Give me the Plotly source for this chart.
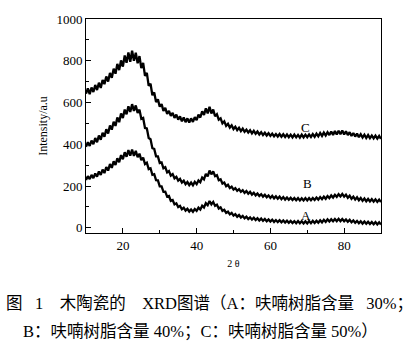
import plotly.graph_objects as go

# 2θ sampling grid (degrees)
two_theta = [10 + 0.5 * i for i in range(161)]

# Diffraction intensities (a.u.) for the three furan resin contents
intensity_A = [
    229, 247, 233, 253, 238, 260, 245, 270, 253, 279, 262, 291, 274, 305, 287, 318,
    301, 333, 314, 348, 328, 362, 340, 372, 345, 374, 344, 368, 338, 355, 324, 336,
    305, 312, 281, 285, 254, 257, 228, 227, 198, 198, 172, 173, 149, 152, 129, 133,
    112, 117, 99, 105, 89, 96, 82, 91, 78, 88, 77, 90, 81, 96, 87, 106,
    97, 118, 108, 128, 112, 124, 105, 111, 92, 98, 81, 86, 71, 77, 64, 71,
    58, 65, 53, 61, 49, 57, 45, 53, 42, 50, 39, 48, 37, 46, 35, 44,
    33, 42, 31, 40, 30, 39, 28, 37, 27, 36, 26, 35, 25, 34, 24, 33,
    23, 32, 22, 32, 22, 31, 21, 31, 21, 32, 22, 33, 23, 34, 24, 36,
    26, 38, 28, 40, 30, 41, 31, 42, 32, 43, 32, 42, 31, 40, 29, 38,
    26, 35, 24, 33, 22, 31, 20, 30, 19, 29, 18, 28, 17, 27, 16, 26,
    16,
]

intensity_B = [
    388, 410, 392, 418, 400, 430, 410, 442, 422, 455, 436, 472, 452, 490, 470, 508,
    488, 528, 506, 548, 526, 566, 544, 582, 555, 592, 560, 586, 550, 566, 522, 526,
    478, 476, 430, 424, 381, 378, 342, 342, 310, 313, 285, 290, 265, 272, 250, 257,
    237, 244, 226, 234, 217, 226, 209, 219, 204, 217, 204, 220, 209, 227, 218, 241,
    232, 258, 246, 274, 256, 270, 247, 252, 228, 232, 212, 217, 199, 206, 190, 197,
    183, 190, 177, 185, 172, 180, 167, 176, 163, 172, 159, 168, 155, 164, 152, 161,
    149, 158, 146, 155, 143, 153, 141, 151, 139, 149, 137, 147, 135, 145, 134, 144,
    133, 143, 132, 142, 131, 141, 131, 142, 131, 142, 132, 143, 133, 145, 135, 147,
    137, 149, 139, 152, 142, 155, 145, 158, 148, 161, 150, 162, 149, 159, 144, 154,
    139, 149, 135, 146, 132, 143, 129, 140, 127, 138, 126, 137, 125, 136, 124, 135,
    123,
]

intensity_C = [
    642, 668, 640, 672, 650, 684, 660, 695, 670, 708, 688, 725, 700, 742, 718, 762,
    738, 785, 755, 802, 772, 825, 790, 840, 795, 848, 800, 838, 788, 822, 765, 790,
    728, 742, 680, 690, 635, 648, 602, 615, 580, 592, 560, 574, 546, 560, 536, 550,
    526, 542, 518, 534, 510, 528, 506, 524, 504, 524, 507, 530, 516, 542, 528, 558,
    540, 572, 548, 580, 548, 566, 534, 544, 518, 524, 500, 510, 488, 498, 480, 491,
    473, 484, 468, 479, 463, 475, 460, 470, 456, 467, 452, 464, 450, 461, 447, 458,
    444, 455, 442, 453, 440, 451, 438, 449, 437, 449, 436, 448, 435, 447, 434, 446,
    433, 446, 433, 445, 432, 446, 433, 446, 434, 447, 435, 449, 436, 451, 438, 454,
    440, 456, 442, 458, 444, 461, 445, 463, 447, 465, 448, 466, 447, 462, 444, 458,
    440, 454, 437, 451, 434, 448, 432, 446, 430, 444, 429, 442, 428, 441, 427, 440,
    426,
]

curve_labels = ["A", "B", "C"]
label_x = [69.6, 70.0, 69.6]
label_y = [61, 214, 482]

x_tick_vals = [20, 40, 60, 80]
y_tick_vals = [0, 200, 400, 600, 800, 1000]

NB = "\u00a0"
caption_line1 = (f"图{NB}{NB}{NB}1{NB}{NB}{NB}{NB}木陶瓷的{NB}{NB}{NB}{NB}"
                 f"XRD图谱（A：呋喃树脂含量{NB}{NB}{NB}30%；")
caption_line2 = f"B：呋喃树脂含量{NB}40%；C：呋喃树脂含量{NB}50%）"

serif = "Liberation Serif, Times New Roman, serif"
cjk = "Liberation Serif, Noto Sans CJK SC, serif"

fig = go.Figure()
for series in (intensity_A, intensity_B, intensity_C):
    fig.add_trace(go.Scatter(
        x=two_theta, y=series, mode="lines",
        line=dict(color="black", width=2.3, simplify=False),
        showlegend=False, hoverinfo="skip",
    ))

for name, lx, ly in zip(curve_labels, label_x, label_y):
    fig.add_annotation(x=lx, y=ly, text=name, showarrow=False,
                       font=dict(family=serif, size=13, color="black"))

axis_common = dict(
    showgrid=False, zeroline=False, showline=True, linecolor="black",
    linewidth=1, mirror=True, ticks="inside", tickcolor="black",
    ticklen=5, tickwidth=1, tickfont=dict(family=serif, size=13, color="black"),
)

fig.update_xaxes(
    range=[10, 90], tickvals=x_tick_vals,
    minor=dict(ticks="inside", ticklen=3, tickcolor="black", dtick=10, tick0=10),
    title=dict(text="2 θ", font=dict(family=serif, size=10, color="black"), standoff=8),
    **axis_common,
)
fig.update_yaxes(
    range=[-25, 1000], tickvals=y_tick_vals,
    minor=dict(ticks="inside", ticklen=3, tickcolor="black", dtick=100, tick0=0),
    title=dict(text="Intensity/a.u", font=dict(family=serif, size=12, color="black"), standoff=6),
    **axis_common,
)

fig.add_annotation(xref="paper", yref="paper", x=0.419, y=-0.33, text=caption_line1,
                   showarrow=False, xanchor="center", yanchor="middle",
                   font=dict(family=cjk, size=16.5, color="black"))
fig.add_annotation(xref="paper", yref="paper", x=0.389, y=-0.46, text=caption_line2,
                   showarrow=False, xanchor="center", yanchor="middle",
                   font=dict(family=cjk, size=16.5, color="black"))

fig.update_layout(
    width=414, height=343,
    margin=dict(l=86, r=33, t=19, b=110),
    paper_bgcolor="white", plot_bgcolor="white",
)

fig.write_html("out.html")
